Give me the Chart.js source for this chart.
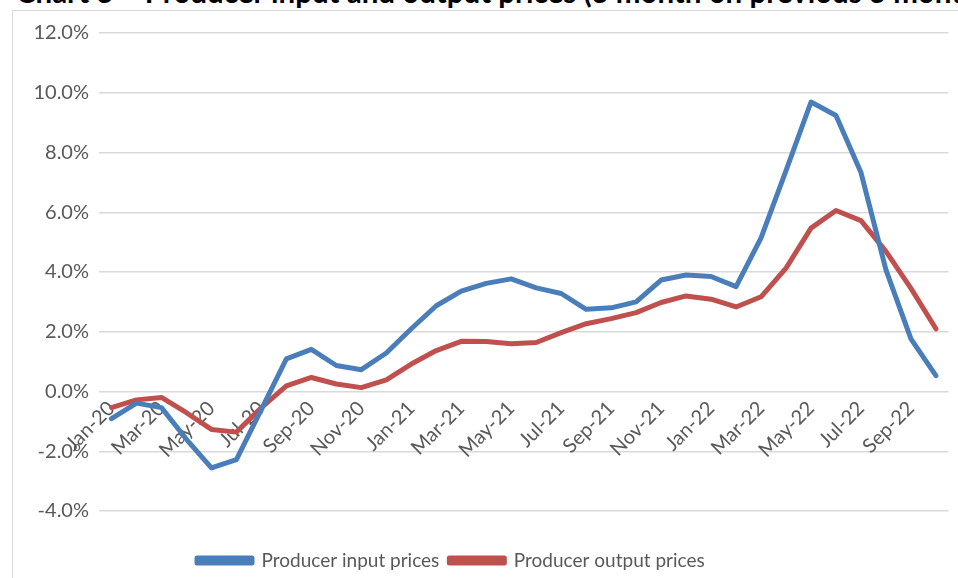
<!DOCTYPE html>
<html>
<head>
<meta charset="utf-8">
<script src="https://cdn.jsdelivr.net/npm/chart.js@4.4.1/dist/chart.umd.min.js"></script>
<style>
  html, body { margin: 0; padding: 0; background: #fff; overflow: hidden; }
  #wrap { position: relative; width: 958px; height: 578px; }
  #title {
    position: absolute; left: 16px; top: -23px; white-space: nowrap;
    font: bold 29.5px Lato, "Open Sans", sans-serif; line-height: 30px; color: #000;
  }
  #frame {
    position: absolute; left: 12px; top: 10px; width: 1000px; height: 600px;
    border-left: 1.5px solid #d9d9d9; border-top: 1.5px solid #d9d9d9;
  }
  #chart { position: absolute; left: 0; top: 0; }
</style>
</head>
<body>
<div id="wrap">
  <div id="title">Chart 3 – Producer input and output prices (3 month on previous 3 month growth)</div>
  <div id="frame"></div>
  <canvas id="chart" width="958" height="578"></canvas>
</div>
<script>
// monthly, Jan-20 .. Oct-22 (3m on previous 3m, %)
const months = ['Jan-20', 'Feb-20', 'Mar-20', 'Apr-20', 'May-20', 'Jun-20', 'Jul-20', 'Aug-20', 'Sep-20', 'Oct-20', 'Nov-20', 'Dec-20',
    'Jan-21', 'Feb-21', 'Mar-21', 'Apr-21', 'May-21', 'Jun-21', 'Jul-21', 'Aug-21', 'Sep-21', 'Oct-21', 'Nov-21', 'Dec-21',
    'Jan-22', 'Feb-22', 'Mar-22', 'Apr-22', 'May-22', 'Jun-22', 'Jul-22', 'Aug-22', 'Sep-22', 'Oct-22'];

const inputPrices = [-0.91, -0.39, -0.54, -1.6, -2.56, -2.28, -0.6, 1.09, 1.41, 0.87, 0.73, 1.29,
    2.10, 2.87, 3.36, 3.62, 3.77, 3.47, 3.28, 2.75, 2.80, 3.00, 3.73, 3.90,
    3.85, 3.51, 5.14, 7.39, 9.69, 9.24, 7.33, 4.07, 1.76, 0.53];

const outputPrices = [-0.54, -0.28, -0.20, -0.71, -1.27, -1.36, -0.54, 0.19, 0.47, 0.25, 0.13, 0.39,
    0.92, 1.37, 1.68, 1.67, 1.60, 1.64, 1.97, 2.27, 2.44, 2.64, 2.98, 3.20,
    3.09, 2.83, 3.17, 4.13, 5.47, 6.06, 5.72, 4.69, 3.45, 2.10];

const yMin = -4, yMax = 12, yStep = 2;

const textGrey = '#595959';
const fontFamily = 'Lato, "Open Sans", sans-serif';

// move legend to where the spreadsheet had it
const legendPlace = {
    id: 'legendPlace',
    afterLayout(chart) {
        const lg = chart.legend;
        const h = lg.bottom - lg.top;
        lg.left = 187;
        lg.top = 541;
        lg.bottom = lg.top + h;
    }
};

const ctx = document.getElementById('chart').getContext('2d');
const priceChart = new Chart(ctx, {
    type: 'line',
    data: {
        labels: months,
        datasets: [{
            label: 'Producer input prices',
            data: inputPrices,
            borderColor: '#4a7ebb',
            backgroundColor: '#4a7ebb',
            borderWidth: 5,
            pointRadius: 0,
            tension: 0,
            borderJoinStyle: 'round',
            borderCapStyle: 'round'
        }, {
            label: 'Producer output prices',
            data: outputPrices,
            borderColor: '#c0504d',
            backgroundColor: '#c0504d',
            borderWidth: 5,
            pointRadius: 0,
            tension: 0,
            borderJoinStyle: 'round',
            borderCapStyle: 'round'
        }]
    },
    options: {
        responsive: false,
        animation: false,
        layout: {
            padding: { left: 0, right: 7, top: 33, bottom: 28 }
        },
        plugins: {
            legend: {
                position: 'bottom',
                align: 'start',
                labels: {
                    boxWidth: 55,
                    boxHeight: 5,
                    padding: 10,
                    color: textGrey,
                    font: { family: fontFamily, size: 19 }
                }
            },
            tooltip: { enabled: false }
        },
        scales: {
            x: {
                position: { y: 0 },
                offset: true,
                grid: { display: false, drawTicks: false },
                border: { display: false },
                ticks: {
                    autoSkip: false,
                    minRotation: 45,
                    maxRotation: 45,
                    padding: 5,
                    color: textGrey,
                    font: { family: fontFamily, size: 20 },
                    callback: function(val, i) {
                        return i % 2 === 0 ? this.getLabelForValue(val) : '';
                    }
                }
            },
            y: {
                min: yMin,
                max: yMax,
                afterFit: function(scale) { scale.width = 99; },
                grid: { color: '#d9d9d9', lineWidth: 1.5, drawTicks: false },
                border: { display: false },
                ticks: {
                    stepSize: yStep,
                    padding: 10,
                    color: textGrey,
                    font: { family: fontFamily, size: 20 },
                    callback: v => v.toFixed(1) + '%'
                }
            }
        }
    },
    plugins: [legendPlace]
});
</script>
</body>
</html>
